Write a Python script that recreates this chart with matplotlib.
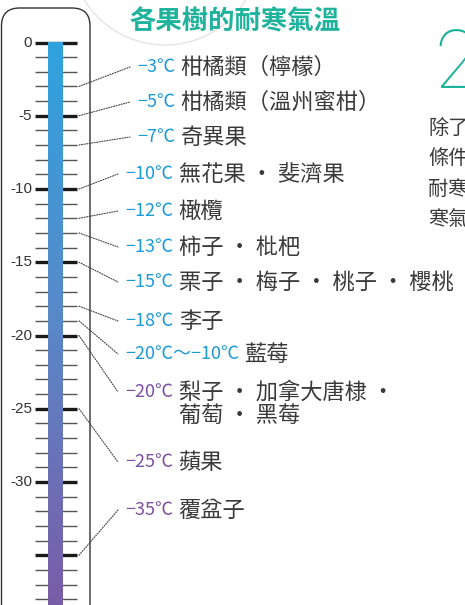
import numpy as np
import matplotlib.pyplot as plt
from matplotlib.colors import LinearSegmentedColormap
from matplotlib.patches import FancyBboxPatch, ConnectionPatch, Circle

plt.rcParams['font.family'] = ['Noto Sans CJK TC', 'DejaVu Sans']

# Data
anchor_temps = [-3, -5, -7, -10, -12, -13, -15, -18, -19, -20, -25, -35]
temp_labels = ['−3℃', '−5℃', '−7℃', '−10℃', '−12℃', '−13℃', '−15℃', '−18℃',
               '−20℃～−10℃', '−20℃', '−25℃', '−35℃']
fruits = ['柑橘類（檸檬）', '柑橘類（溫州蜜柑）', '奇異果', '無花果 ・ 斐濟果', '橄欖',
          '柿子 ・ 枇杷', '栗子 ・ 梅子 ・ 桃子 ・ 櫻桃', '李子', '藍莓',
          '梨子 ・ 加拿大唐棣 ・\n葡萄 ・ 黑莓', '蘋果', '覆盆子']
label_groups = ['blue'] * 9 + ['purple'] * 3
scale_ticks = list(range(0, -39, -1))
scale_labels = [0, -5, -10, -15, -20, -25, -30]

# Layout (pixels from top-left)
label_y = [67, 102, 137, 174, 211, 247, 282, 321, 354, 392, 462, 510]
leader_end = [130, 130, 130, 118, 118, 118, 118, 118, 118, 118, 118, 118]
colors = {'blue': '#1b9ad8', 'purple': '#7d4fa3'}
teal = '#1fb39d'
text_gray = '#3a3a3a'

W, H = 465, 605
fig = plt.figure(figsize=(W / 100, H / 100), dpi=100)

# layout axes in pixel coordinates
lay = fig.add_axes([0, 0, 1, 1])
lay.set_xlim(0, W)
lay.set_ylim(H, 0)
lay.axis('off')

# thermometer axes: x in pixels, y in degrees
ax = fig.add_axes([0, 0, 1, 1])
ax.set_facecolor('none')
ax.axis('off')

# faint background decoration
lay.add_patch(Circle((165, -50), 95, fill=False, ec='#e4e4e4', lw=1))

# thermometer body outline
lay.add_patch(FancyBboxPatch((1.5, 8), 88.5, 700,
                             boxstyle='round,pad=0,rounding_size=18',
                             fc='white', ec='#333333', lw=1))

# ticks
for t in scale_ticks:
    if t % 5 == 0:
        ax.hlines(t, 35, 77, color='#1a1a1a', lw=2.4, zorder=2)
    else:
        ax.hlines(t, 35, 77, color='#555555', lw=1, zorder=2)
for t in scale_labels:
    ax.text(32, t, '0' if t == 0 else '-%d' % -t, ha='right', va='center',
            fontsize=11, color='#333333', family=['Liberation Sans'])

# gradient mercury bar
cmap = LinearSegmentedColormap.from_list('merc', ['#2ea3de', '#5a88c8', '#7a5ca8'])
grad = np.linspace(0, 1, 256).reshape(-1, 1)
ax.imshow(grad, extent=[48, 63, -38.4, 0], aspect='auto', cmap=cmap,
          origin='upper', zorder=3)

ax.set_xlim(0, W)
ax.set_ylim(-(H - 42.5) / 14.65, 42.5 / 14.65)

# labels with leader lines
for t, lab, fr, grp, y, xe in zip(anchor_temps, temp_labels, fruits,
                                  label_groups, label_y, leader_end):
    con = ConnectionPatch(xyA=(79, t), coordsA=ax.transData,
                          xyB=(xe, y), coordsB=lay.transData,
                          color='#444444', lw=0.8, linestyle=(0, (1, 1.3)))
    fig.add_artist(con)
    tt = lay.text(xe + 7, y, lab, ha='left', va='center', fontsize=13,
                  color=colors[grp])
    lay.annotate(fr, xy=(1, 1), xycoords=tt, xytext=(4, 1.5),
                 textcoords='offset points', ha='left', va='top',
                 fontsize=16, color=text_gray, linespacing=1.0)

# title
lay.text(235, 22, '各果樹的耐寒氣溫', ha='center', va='center', fontsize=19,
         fontweight='bold', color=teal)

# side panel (cut off at the right edge, as in the source page)
lay.text(434, 88, '2', ha='left', va='baseline', fontsize=58, color=teal,
         family=['Roboto', 'DejaVu Sans'], fontweight='light')
side_lines = ['除了氣溫之外', '條件也很重要', '耐寒性較弱的', '寒氣來臨之前']
for i, s in enumerate(side_lines):
    lay.text(428, 128 + i * 30.5, s, ha='left', va='center', fontsize=14.5,
             color=text_gray)

fig.savefig('out.png', dpi=100)
